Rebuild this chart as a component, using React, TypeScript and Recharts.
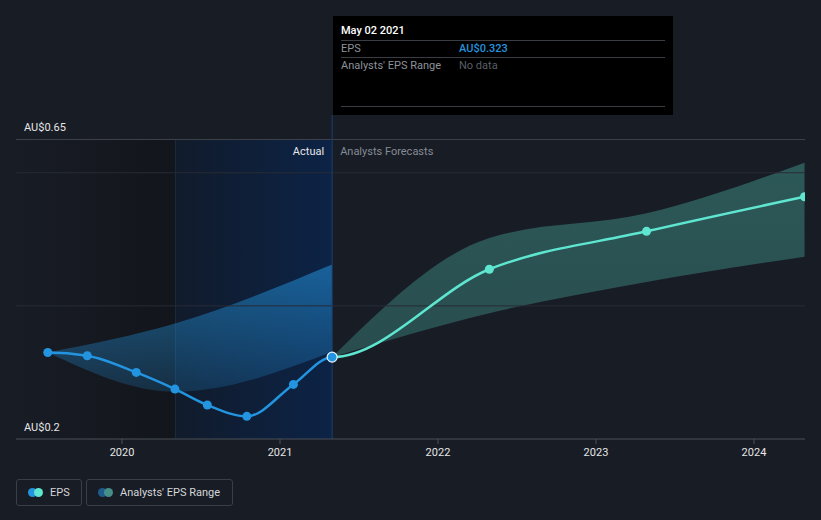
import React from 'react';
import {
  ComposedChart,
  Line,
  Area,
  XAxis,
  YAxis,
  ReferenceLine,
  ReferenceArea,
} from 'recharts';

// ---- data ----
const actualDates = [2019.53, 2019.78, 2020.09, 2020.335, 2020.54, 2020.79, 2021.085, 2021.33];
const actualEps = [0.33, 0.325, 0.3, 0.275, 0.251, 0.234, 0.282, 0.323];

const pastBandDates = [2019.53, 2020.335, 2021.33];
const pastLow = [0.33, 0.271, 0.331];
const pastHigh = [0.33, 0.3735, 0.462];

const forecastDates = [2021.33, 2022.325, 2023.32, 2024.32];
const forecastEps = [0.323, 0.455, 0.512, 0.564];
const forecastLow = [0.323, 0.389, 0.436, 0.474];
const forecastHigh = [0.323, 0.502, 0.539, 0.615];

const yearTicks = [2020, 2021, 2022, 2023, 2024];
const gridValues = [0.4, 0.6];
const yLabelTop = 0.65;
const yLabelBottom = 0.2;

const xDomain = [2019.329, 2024.323];
const yDomain = [0.2, 0.6868];
const pastRegionStart = 2020.335;
const todayX = 2021.33;

const tooltipDate = 'May 02 2021';
const tooltipEps = 'AU$0.323';

// ---- series tables ----
const actualData = actualDates.map((x, i) => ({ x, eps: actualEps[i] }));
const pastBandData = pastBandDates.map((x, i) => ({ x, band: [pastLow[i], pastHigh[i]] }));
const forecastData = forecastDates.map((x, i) => ({ x, eps: forecastEps[i] }));
const forecastBandData = forecastDates.map((x, i) => ({ x, band: [forecastLow[i], forecastHigh[i]] }));

const BG = '#181c25';
const BLUE = '#2394df';
const TEAL = '#5ee6d0';
const FONT = 'Roboto, "Noto Sans", sans-serif';

// monotone curve factory with optional flat end tangents (passed to Recharts `type`)
function makeCurve(flatStart: boolean, flatEnd: boolean) {
  return function (context: any) {
    let pts: [number, number][] = [];
    let lineFlag = NaN;
    const draw = () => {
      const n = pts.length;
      if (!n) return;
      if (lineFlag) context.lineTo(pts[0][0], pts[0][1]);
      else context.moveTo(pts[0][0], pts[0][1]);
      if (n === 1) return;
      const m = new Array(n).fill(0);
      for (let i = 1; i < n - 1; i++) {
        const h0 = pts[i][0] - pts[i - 1][0];
        const h1 = pts[i + 1][0] - pts[i][0];
        const s0 = (pts[i][1] - pts[i - 1][1]) / (h0 || 1);
        const s1 = (pts[i + 1][1] - pts[i][1]) / (h1 || 1);
        const p = (s0 * h1 + s1 * h0) / (h0 + h1 || 1);
        m[i] = (Math.sign(s0) + Math.sign(s1)) * Math.min(Math.abs(s0), Math.abs(s1), 0.5 * Math.abs(p)) || 0;
      }
      const sFirst = (pts[1][1] - pts[0][1]) / (pts[1][0] - pts[0][0] || 1);
      const sLast = (pts[n - 1][1] - pts[n - 2][1]) / (pts[n - 1][0] - pts[n - 2][0] || 1);
      if (n === 2) {
        m[0] = flatStart ? 0 : sFirst;
        m[1] = flatEnd ? 0 : sLast;
      } else {
        m[0] = flatStart ? 0 : (3 * sFirst - m[1]) / 2;
        m[n - 1] = flatEnd ? 0 : (3 * sLast - m[n - 2]) / 2;
      }
      for (let i = 0; i < n - 1; i++) {
        const [x0, y0] = pts[i];
        const [x1, y1] = pts[i + 1];
        const d = (x1 - x0) / 3;
        context.bezierCurveTo(x0 + d, y0 + d * m[i], x1 - d, y1 - d * m[i + 1], x1, y1);
      }
    };
    return {
      areaStart() {
        lineFlag = 0;
      },
      areaEnd() {
        lineFlag = NaN;
      },
      lineStart() {
        pts = [];
      },
      lineEnd() {
        draw();
        if (lineFlag) context.closePath();
        lineFlag = 1 - lineFlag;
      },
      point(x: number, y: number) {
        pts.push([+x, +y]);
      },
    };
  };
}

const actualCurve = makeCurve(true, true);
const forecastCurve = makeCurve(true, false);

const YLabel = (text: string) => (props: any) => {
  const vb = props.viewBox || {};
  return (
    <text x={24} y={vb.y - 8} fill="#e6e6e6" fontSize={11} fontFamily={FONT}>
      {text}
    </text>
  );
};

const ActualDot = (props: any) => {
  const { cx, cy, index } = props;
  if (cx == null || cy == null) return <g key={'d' + index} />;
  const last = index === actualDates.length - 1;
  return (
    <circle
      key={'d' + index}
      cx={cx}
      cy={cy}
      r={last ? 5 : 4.5}
      fill={BLUE}
      stroke={last ? '#e8f4ff' : BLUE}
      strokeWidth={last ? 1.2 : 0}
    />
  );
};

const DividerLabel = (props: any) => {
  const vb = props.viewBox || {};
  const x = vb.x;
  const y = (vb.y || 115) + 40;
  return (
    <g fontFamily={FONT} fontSize={11}>
      <text x={x - 8} y={y} textAnchor="end" fill="#e6e6e6">
        Actual
      </text>
      <text x={x + 8} y={y} textAnchor="start" fill="#858b94">
        Analysts Forecasts
      </text>
    </g>
  );
};

const Tooltipish = () => (
  <div
    style={{
      position: 'absolute',
      left: 333,
      top: 16,
      width: 340,
      height: 99,
      background: '#000',
      fontFamily: FONT,
      fontSize: 11,
    }}
  >
    <div style={{ position: 'absolute', left: 8, top: 7, lineHeight: '16px', color: '#ffffff', fontWeight: 500 }}>
      {tooltipDate}
    </div>
    <div style={{ position: 'absolute', left: 8, right: 8, top: 24, height: 1, background: '#3a3e44' }} />
    <div style={{ position: 'absolute', left: 8, top: 25, lineHeight: '16px', color: '#8d9299' }}>EPS</div>
    <div style={{ position: 'absolute', left: 126, top: 25, lineHeight: '16px', color: BLUE, fontWeight: 500 }}>
      {tooltipEps}
    </div>
    <div style={{ position: 'absolute', left: 8, right: 8, top: 41, height: 1, background: '#3a3e44' }} />
    <div style={{ position: 'absolute', left: 8, top: 42, lineHeight: '16px', color: '#8d9299' }}>
      Analysts' EPS Range
    </div>
    <div style={{ position: 'absolute', left: 126, top: 42, lineHeight: '16px', color: '#5a5f66' }}>No data</div>
    <div style={{ position: 'absolute', left: 8, right: 8, top: 90, height: 1, background: '#3a3e44' }} />
  </div>
);

const LegendBox = ({ left, width, c1, c2, label }: any) => (
  <div
    style={{
      position: 'absolute',
      left,
      top: 479,
      width,
      height: 27,
      boxSizing: 'border-box',
      border: '1px solid #3a3f47',
      borderRadius: 3,
      fontFamily: FONT,
      fontSize: 11,
      color: '#d4d6d9',
    }}
  >
    <div style={{ position: 'absolute', left: 11, top: 8, width: 9, height: 9, borderRadius: '50%', background: c1 }} />
    <div style={{ position: 'absolute', left: 17, top: 8, width: 9, height: 9, borderRadius: '50%', background: c2 }} />
    <div style={{ position: 'absolute', left: 33, top: 5, lineHeight: '16px', whiteSpace: 'nowrap' }}>{label}</div>
  </div>
);

export default function App() {
  return (
    <div style={{ position: 'absolute', left: 0, top: 0, width: 821, height: 520, background: BG, overflow: 'hidden' }}>
      <ComposedChart width={821} height={520} margin={{ top: 115, right: 16, bottom: 51, left: 16 }}>
        <defs>
          <linearGradient id="leftRegion" x1="0" y1="0" x2="1" y2="0">
            <stop offset="0%" stopColor="#181c25" />
            <stop offset="100%" stopColor="#12151b" />
          </linearGradient>
          <linearGradient id="blueRegion" x1="0" y1="0" x2="1" y2="0">
            <stop offset="0%" stopColor="#111b2b" />
            <stop offset="100%" stopColor="#0c2346" />
          </linearGradient>
          <linearGradient id="pastBand" x1="0" y1="0" x2="0" y2="1">
            <stop offset="0%" stopColor={BLUE} stopOpacity={0.55} />
            <stop offset="100%" stopColor={BLUE} stopOpacity={0.2} />
          </linearGradient>
          <linearGradient id="fcBand" x1="0" y1="0" x2="0" y2="1">
            <stop offset="0%" stopColor={TEAL} stopOpacity={0.3} />
            <stop offset="100%" stopColor={TEAL} stopOpacity={0.24} />
          </linearGradient>
        </defs>
        <XAxis
          type="number"
          dataKey="x"
          domain={xDomain}
          ticks={yearTicks}
          allowDataOverflow
          tickFormatter={(v: number) => String(v)}
          tick={{ fill: '#e6e6e6', fontSize: 11, fontFamily: FONT }}
          axisLine={{ stroke: '#4b5059' }}
          tickLine={{ stroke: '#4b5059' }}
          tickSize={5}
          tickMargin={4}
          height={30}
        />
        <YAxis type="number" domain={yDomain} allowDataOverflow hide />
        <ReferenceArea
          x1={xDomain[0]}
          x2={pastRegionStart}
          y1={0.2}
          y2={0.65}
          fill="url(#leftRegion)"
          fillOpacity={1}
          stroke="none"
        />
        <ReferenceArea
          x1={pastRegionStart}
          x2={todayX}
          y1={0.2}
          y2={0.65}
          fill="url(#blueRegion)"
          fillOpacity={1}
          stroke="none"
        />
        <ReferenceArea
          x1={pastRegionStart}
          x2={pastRegionStart + 0.0063}
          y1={0.2}
          y2={0.65}
          fill="#1a2a40"
          fillOpacity={1}
          stroke="none"
        />
        {gridValues.map((v) => (
          <ReferenceLine key={v} y={v} stroke="#272c35" strokeWidth={1} />
        ))}
        <ReferenceLine y={yLabelTop} stroke="#3c414a" strokeWidth={1} label={YLabel('AU$0.65')} />
        <ReferenceLine y={yLabelBottom} stroke="none" label={YLabel('AU$0.2')} />
        <Area
          data={pastBandData}
          dataKey="band"
          type="monotone"
          fill="url(#pastBand)"
          fillOpacity={1}
          stroke="none"
          isAnimationActive={false}
          activeDot={false}
        />
        <Area
          data={forecastBandData}
          dataKey="band"
          type="monotone"
          fill="url(#fcBand)"
          fillOpacity={1}
          stroke="none"
          isAnimationActive={false}
          activeDot={false}
        />
        <ReferenceLine x={todayX} stroke="#1b3f6e" strokeWidth={1} label={<DividerLabel />} />
        <Line
          data={forecastData}
          dataKey="eps"
          type={forecastCurve as any}
          stroke={TEAL}
          strokeWidth={2.5}
          dot={{ r: 4.5, fill: TEAL, stroke: TEAL, strokeWidth: 0 }}
          activeDot={false}
          isAnimationActive={false}
        />
        <Line
          data={actualData}
          dataKey="eps"
          type={actualCurve as any}
          stroke={BLUE}
          strokeWidth={2.5}
          dot={ActualDot}
          activeDot={false}
          isAnimationActive={false}
        />
      </ComposedChart>
      <Tooltipish />
      <LegendBox left={16} width={66} c1={BLUE} c2={TEAL} label="EPS" />
      <LegendBox left={86} width={147} c1="#1e5c8c" c2="#468f88" label="Analysts' EPS Range" />
    </div>
  );
}
